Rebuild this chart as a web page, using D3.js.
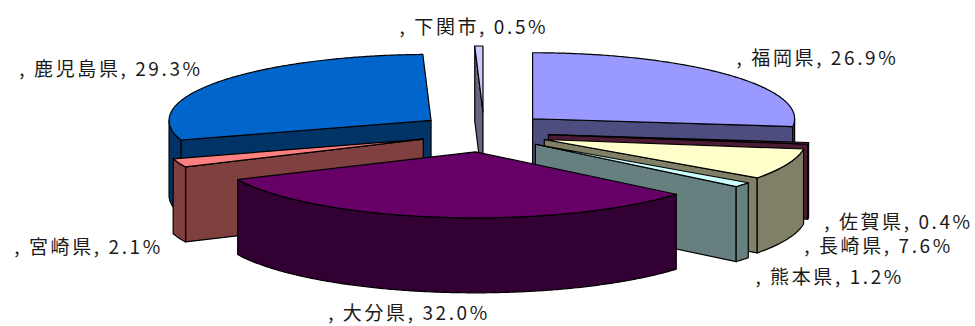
<!DOCTYPE html>
<html><head><meta charset="utf-8">
<script src="https://cdn.jsdelivr.net/npm/d3@7"></script>
<style>html,body{margin:0;padding:0;background:#fff;} svg{display:block}</style>
</head><body>
<svg id="chart" width="975" height="326"></svg>
<script>
// ---- data ----
const categories = ["福岡県","佐賀県","長崎県","熊本県","大分県","宮崎県","鹿児島県","下関市"];
const values = [26.9, 0.4, 7.6, 1.2, 32.0, 2.1, 29.3, 0.5];
// ---- style / layout ----
const topColors = ["#9999FF","#993366","#FFFFCC","#CCFFFF","#660066","#FF8080","#0066CC","#CCCCFF"];
const labelNudge = [[8,-10,"start"],[16,11,"start"],[17,14,"start"],[13,24,"start"],[-32,28,"middle"],[-16,16,"end"],[-15,-6,"end"],[-5,-12,"middle"]];

const cx = 484, cy = 132, rx = 262, ry = 66, depth = 75, ex = 65, ey = 20;
const svg = d3.select("#chart");
svg.append("rect").attr("width",975).attr("height",326).attr("fill","#fff");

const pie = d3.pie().sort(null).value(d => d.v).startAngle(0).endAngle(2 * Math.PI);
const data = categories.map((c, i) => ({name: c, v: values[i], color: topColors[i], i}));
const arcs = pie(data);
arcs.forEach(s => {
  s.mid = (s.startAngle + s.endAngle) / 2;
  s.ox = cx + ex * Math.sin(s.mid);
  s.oy = cy - ey * Math.cos(s.mid);
});
function proj(s, t, r, z) { return [s.ox + r * rx * Math.sin(t), s.oy - r * ry * Math.cos(t) + z]; }
function arcPts(s, a0, a1, z) {
  const n = Math.max(2, Math.ceil(Math.abs(a1 - a0) / (Math.PI / 360)) + 1);
  return d3.range(n).map(k => proj(s, a0 + (a1 - a0) * k / (n - 1), 1, z));
}
function shade(c) { const r = d3.rgb(c); return d3.rgb(r.r * 0.5, r.g * 0.5, r.b * 0.5).formatHex(); }
const line = d3.line();
const order = arcs.slice().sort((p, q) => Math.cos(q.mid) - Math.cos(p.mid));
const g = svg.append("g").attr("stroke", "#000").attr("stroke-width", 1.2).attr("stroke-linejoin", "round");

order.forEach(s => {
  const a = s.startAngle, b = s.endAngle, sideC = shade(s.data.color);
  const gs = g.append("g");
  const radial = t => [proj(s, t, 0, 0), proj(s, t, 1, 0), proj(s, t, 1, depth), proj(s, t, 0, depth)];
  if (Math.sin(a) < -1e-6) gs.append("path").attr("d", line(radial(a)) + "Z").attr("fill", sideC);
  if (Math.sin(b) > 1e-6) gs.append("path").attr("d", line(radial(b)) + "Z").attr("fill", sideC);
  const o0 = Math.max(a, Math.PI / 2), o1 = Math.min(b, 3 * Math.PI / 2);
  if (o1 > o0) {
    const pts = arcPts(s, o0, o1, 0).concat(arcPts(s, o1, o0, depth));
    gs.append("path").attr("d", line(pts) + "Z").attr("fill", sideC);
  }
  const topPts = [proj(s, 0, 0, 0)].concat(arcPts(s, a, b, 0));
  gs.append("path").attr("d", line(topPts) + "Z").attr("fill", s.data.color);
});

// ---- labels ----
svg.append("g").selectAll("text").data(arcs).join("text")
  .attr("x", s => proj(s, s.mid, 1, 0)[0] + labelNudge[s.index][0])
  .attr("y", s => proj(s, s.mid, 1, Math.cos(s.mid) < 0 ? depth : 0)[1] + labelNudge[s.index][1])
  .attr("text-anchor", s => labelNudge[s.index][2])
  .attr("font-family", "'Noto Sans CJK JP', sans-serif")
  .attr("font-size", 19)
  .style("letter-spacing", "2.6px")
  .attr("fill", "#1a1a1a")
  .text(s => `, ${s.data.name}, ${s.data.v.toFixed(1)}%`);
</script>
</body></html>
